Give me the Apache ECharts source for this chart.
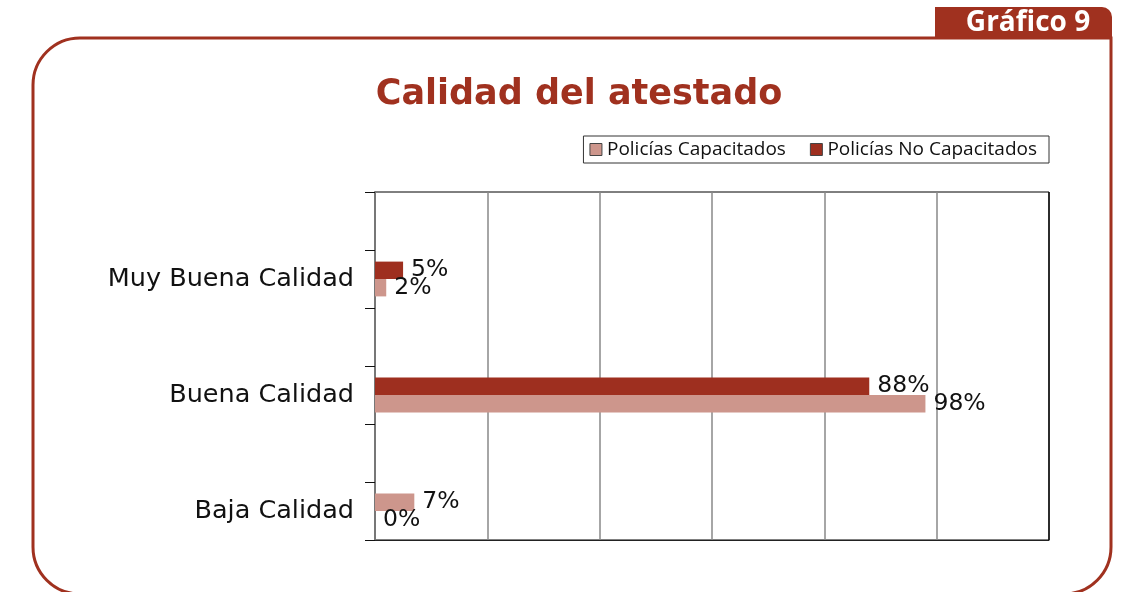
<!DOCTYPE html>
<html>
<head>
<meta charset="utf-8">
<script src="https://cdn.jsdelivr.net/npm/echarts@6/dist/echarts.min.js"></script>
<style>html,body{margin:0;padding:0;background:#fff}#c{width:1132px;height:592px}</style>
</head>
<body>
<div id="c"></div>
<script>
// Data
const categories = ["Muy Buena Calidad", "Buena Calidad", "Baja Calidad"];
const seriesNames = ["Policías Capacitados", "Policías No Capacitados"];
const capacitados = [2, 98, 0];
const noCapacitados = [5, 88, 7];
const xTicks = [0, 20, 40, 60, 80, 100, 120];

const DARK = '#9E2F1F';
const LIGHT = '#CD968C';
const FRAME = '#A0311F';

// Each category sits in the lower half of a pair of bands (blank band above it)
const axisCats = categories.flatMap(c => ['', c]);
const spread = arr => arr.flatMap(v => [null, v]);

const chart = echarts.init(document.getElementById('c'), null, {renderer: 'canvas'});
chart.setOption({
  animation: false,
  backgroundColor: '#fff',
  title: {
    text: 'Calidad del atestado',
    left: 574, top: 72, textAlign: 'center',
    textStyle: {fontFamily: 'DejaVu Sans', fontWeight: 'bold', fontSize: 35, color: FRAME}
  },
  legend: {
    data: [
      {name: seriesNames[0], itemStyle: {color: LIGHT, borderColor: '#444', borderWidth: 1}},
      {name: seriesNames[1], itemStyle: {color: DARK, borderColor: '#444', borderWidth: 1}}
    ],
    right: 83, top: 136,
    icon: 'rect', itemWidth: 12, itemHeight: 12, itemGap: 24,
    borderColor: '#333', borderWidth: 1,
    padding: [4, 12, 4, 6],
    textStyle: {fontFamily: 'Open Sans', fontSize: 19, color: '#111'}
  },
  graphic: [
    {type: 'rect', shape: {x: 33, y: 38, width: 1078, height: 556, r: [47, 0, 47, 47]},
     style: {fill: 'none', stroke: FRAME, lineWidth: 3}, z: 1},
    {type: 'rect', shape: {x: 935, y: 7, width: 177, height: 32, r: [0, 10, 0, 0]},
     style: {fill: FRAME}, z: 2},
    {type: 'text', x: 1028, y: 23, z: 3,
     style: {text: 'Gráfico 9', fill: '#fff', font: 'bold 28px "Open Sans"', textAlign: 'center', textVerticalAlign: 'middle'}}
  ],
  grid: {left: 375, right: 83, top: 192, bottom: 52, show: true, borderColor: '#000', borderWidth: 1, backgroundColor: 'transparent'},
  xAxis: {
    type: 'value', min: xTicks[0], max: xTicks[xTicks.length - 1], interval: xTicks[1] - xTicks[0],
    axisLabel: {show: false}, axisTick: {show: false},
    axisLine: {show: true, lineStyle: {color: '#222', width: 1}},
    splitLine: {show: true, lineStyle: {color: ['#888', '#888', '#888', '#888', '#888', '#888', '#111'], width: 1.5}}
  },
  yAxis: {
    type: 'category', inverse: true, data: axisCats,
    axisLine: {show: true, lineStyle: {color: '#777', width: 2}},
    axisTick: {show: true, length: 10, lineStyle: {color: '#111', width: 1}},
    axisLabel: {fontFamily: 'DejaVu Sans', fontSize: 25.5, color: '#111', margin: 21},
    splitLine: {show: false}
  },
  series: [
    {
      name: seriesNames[1], type: 'bar', data: spread(noCapacitados),
      barGap: '0%', barCategoryGap: '40%',
      itemStyle: {color: p => (p.name === 'Baja Calidad' ? LIGHT : DARK)},
      label: {show: true, position: 'right', distance: 8, formatter: '{c}%',
              fontFamily: 'DejaVu Sans', fontSize: 23.5, color: '#111'}
    },
    {
      name: seriesNames[0], type: 'bar', data: spread(capacitados),
      barGap: '0%', barCategoryGap: '40%',
      itemStyle: {color: LIGHT},
      label: {show: true, position: 'right', distance: 8, formatter: '{c}%',
              fontFamily: 'DejaVu Sans', fontSize: 23.5, color: '#111'}
    }
  ]
});
</script>
</body>
</html>
